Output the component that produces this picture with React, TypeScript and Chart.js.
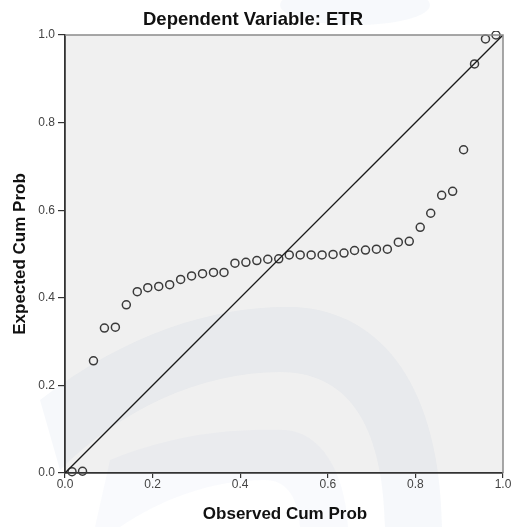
import React, { useEffect, useRef } from "react";
import { Chart, registerables } from "chart.js";

Chart.register(...registerables);

const chartTitle = "Dependent Variable: ETR";
const xAxisTitle = "Observed Cum Prob";
const yAxisTitle = "Expected Cum Prob";

const tickValues = [0, 0.2, 0.4, 0.6, 0.8, 1.0];

const observedCumProb = [
  0.016, 0.040, 0.065, 0.090, 0.115, 0.140, 0.165, 0.189, 0.214, 0.239,
  0.264, 0.289, 0.314, 0.339, 0.363, 0.388, 0.413, 0.438, 0.463, 0.488,
  0.512, 0.537, 0.562, 0.587, 0.612, 0.637, 0.661, 0.686, 0.711, 0.736,
  0.761, 0.786, 0.811, 0.835, 0.860, 0.885, 0.910, 0.935, 0.960, 0.984,
];

const expectedCumProb = [
  0.003, 0.004, 0.256, 0.331, 0.333, 0.384, 0.414, 0.423, 0.426, 0.430,
  0.442, 0.450, 0.455, 0.458, 0.458, 0.479, 0.481, 0.485, 0.488, 0.489,
  0.498, 0.498, 0.498, 0.498, 0.499, 0.502, 0.508, 0.509, 0.511, 0.511,
  0.527, 0.529, 0.561, 0.593, 0.634, 0.643, 0.738, 0.934, 0.991, 1.0,
];

const referenceLine = [
  { x: 0, y: 0 },
  { x: 1, y: 1 },
];

const FONT = "'Liberation Sans', Arial, sans-serif";

const decorPlugin = {
  id: "decor",
  beforeDraw(chart: any) {
    const { ctx, chartArea } = chart;
    const { left, top, right, bottom } = chartArea;
    ctx.save();
    ctx.fillStyle = "#ffffff";
    ctx.fillRect(0, 0, chart.width, chart.height);
    ctx.fillStyle = "#f0f0f0";
    ctx.fillRect(left, top, right - left, bottom - top);
    // faint background watermark bands
    ctx.fillStyle = "rgba(120,150,200,0.065)";
    ctx.beginPath();
    ctx.moveTo(40, 400);
    ctx.bezierCurveTo(130, 330, 220, 305, 295, 307);
    ctx.bezierCurveTo(385, 312, 440, 390, 442, 527);
    ctx.lineTo(385, 527);
    ctx.bezierCurveTo(383, 420, 345, 372, 280, 372);
    ctx.bezierCurveTo(200, 372, 120, 410, 60, 470);
    ctx.closePath();
    ctx.fill();
    ctx.fillStyle = "rgba(120,150,200,0.045)";
    ctx.beginPath();
    ctx.moveTo(110, 460);
    ctx.bezierCurveTo(170, 435, 230, 428, 285, 430);
    ctx.bezierCurveTo(320, 432, 345, 470, 348, 527);
    ctx.lineTo(300, 527);
    ctx.bezierCurveTo(298, 495, 285, 480, 265, 480);
    ctx.bezierCurveTo(210, 480, 160, 500, 120, 527);
    ctx.lineTo(95, 527);
    ctx.closePath();
    ctx.fill();
    ctx.fillStyle = "rgba(120,150,200,0.06)";
    ctx.beginPath();
    ctx.ellipse(355, 5, 75, 20, 0, 0, Math.PI * 2);
    ctx.fill();
    ctx.restore();
  },
  afterDraw(chart: any) {
    const { ctx, chartArea } = chart;
    const { left, top, right, bottom } = chartArea;
    ctx.save();
    ctx.strokeStyle = "#8a8a8a";
    ctx.lineWidth = 1.5;
    ctx.beginPath();
    ctx.moveTo(left, top);
    ctx.lineTo(right, top);
    ctx.lineTo(right, bottom);
    ctx.stroke();
    ctx.fillStyle = "#111";
    ctx.textAlign = "center";
    ctx.textBaseline = "middle";
    ctx.font = `bold 18.5px ${FONT}`;
    ctx.fillText(chartTitle, 253, 20);
    ctx.font = `bold 17px ${FONT}`;
    ctx.fillText(xAxisTitle, 285, 514);
    ctx.translate(20, 254);
    ctx.rotate(-Math.PI / 2);
    ctx.fillText(yAxisTitle, 0, 0);
    ctx.restore();
  },
};

export default function App() {
  const canvasRef = useRef<HTMLCanvasElement>(null);

  useEffect(() => {
    document.body.style.margin = "0";
    const canvas = canvasRef.current;
    if (!canvas) return;
    const points = observedCumProb.map((x, i) => ({ x, y: expectedCumProb[i] }));
    const tickCallback = (v: any) => Number(v).toFixed(1);
    const axisCommon = (tickLength: number) => ({
      type: "linear" as const,
      min: 0,
      max: 1,
      afterBuildTicks: (scale: any) => {
        scale.ticks = tickValues.map((v) => ({ value: v }));
      },
      grid: {
        display: true,
        drawOnChartArea: false,
        drawTicks: true,
        tickLength,
        color: "#333",
        lineWidth: 1.2,
      },
      border: { display: true, color: "#333", width: 1.8 },
    });
    const chart = new Chart(canvas, {
      type: "scatter",
      data: {
        datasets: [
          {
            type: "line",
            data: referenceLine,
            borderColor: "#1a1a1a",
            borderWidth: 1.3,
            pointRadius: 0,
            fill: false,
          } as any,
          {
            type: "scatter",
            data: points,
            pointStyle: "circle",
            pointRadius: 4,
            borderColor: "#3a3a3a",
            borderWidth: 1.5,
            backgroundColor: "rgba(0,0,0,0)",
            clip: 4,
          } as any,
        ],
      },
      options: {
        animation: false,
        responsive: false,
        maintainAspectRatio: false,
        layout: { padding: { top: 35, right: 9, left: 0, bottom: 0 } },
        plugins: {
          legend: { display: false },
          tooltip: { enabled: false },
          title: { display: false },
        },
        scales: {
          x: {
            ...axisCommon(5),
            position: "bottom",
            afterFit: (scale: any) => {
              scale.height = 54;
            },
            ticks: {
              callback: tickCallback,
              padding: -1,
              color: "#444",
              font: { family: FONT, size: 12 },
              maxRotation: 0,
              autoSkip: false,
            },
          },
          y: {
            ...axisCommon(7),
            position: "left",
            afterFit: (scale: any) => {
              scale.width = 65;
            },
            ticks: {
              callback: tickCallback,
              padding: 3,
              color: "#444",
              font: { family: FONT, size: 12 },
              autoSkip: false,
            },
          },
        } as any,
      },
      plugins: [decorPlugin],
    });
    return () => chart.destroy();
  }, []);

  return (
    <div style={{ width: 512, height: 527 }}>
      <canvas ref={canvasRef} width={512} height={527} style={{ display: "block" }} />
    </div>
  );
}
